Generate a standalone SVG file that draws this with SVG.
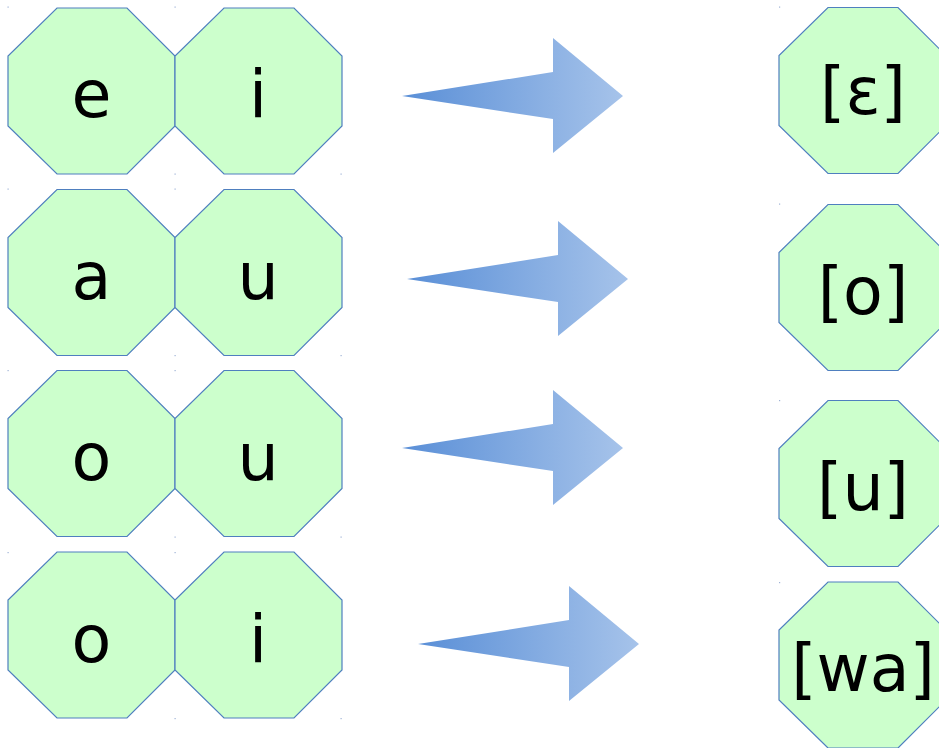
<svg xmlns="http://www.w3.org/2000/svg" xmlns:xlink="http://www.w3.org/1999/xlink" width="939" height="748" viewBox="0 0 939 748">
<style>
.oct{fill:#ccffcc;stroke:#4f7fbf;stroke-width:1.2}
.t{font-family:"DejaVu Sans",Verdana,sans-serif;font-size:65px;fill:#000;text-anchor:middle}
.dot{fill:#9fb3d6}
</style>
<defs>
<linearGradient id="ag" x1="0" y1="0" x2="1" y2="0">
<stop offset="0" stop-color="#5a8fd7"/>
<stop offset="1" stop-color="#a6c3ea"/>
</linearGradient>
<path id="arr" d="M0,0 L151,-24 L151,-58 L221,0 L151,57 L151,23 Z" fill="url(#ag)"/>
</defs>
<rect width="939" height="748" fill="#fff"/>
<g id="dots">
<rect class="dot" x="7.5" y="6.5" width="1.2" height="1.2"/><rect class="dot" x="174.5" y="6.5" width="1.2" height="1.2"/><rect class="dot" x="174.5" y="173.5" width="1.2" height="1.2"/><rect class="dot" x="340.5" y="173.5" width="1.2" height="1.2"/>
<rect class="dot" x="7.5" y="188.5" width="1.2" height="1.2"/><rect class="dot" x="174.5" y="188.5" width="1.2" height="1.2"/><rect class="dot" x="174.5" y="355" width="1.2" height="1.2"/><rect class="dot" x="340.5" y="355" width="1.2" height="1.2"/>
<rect class="dot" x="7.5" y="370" width="1.2" height="1.2"/><rect class="dot" x="174.5" y="370" width="1.2" height="1.2"/><rect class="dot" x="174.5" y="536.5" width="1.2" height="1.2"/><rect class="dot" x="340.5" y="536.5" width="1.2" height="1.2"/>
<rect class="dot" x="7.5" y="552" width="1.2" height="1.2"/><rect class="dot" x="174.5" y="552" width="1.2" height="1.2"/><rect class="dot" x="174.5" y="718" width="1.2" height="1.2"/><rect class="dot" x="340.5" y="718" width="1.2" height="1.2"/>
<rect class="dot" x="779" y="6.5" width="1.2" height="1.2"/><rect class="dot" x="779" y="203.5" width="1.2" height="1.2"/><rect class="dot" x="779" y="400" width="1.2" height="1.2"/><rect class="dot" x="779" y="582" width="1.2" height="1.2"/>
</g>
<g id="n-e" transform="translate(8,8)"><polygon class="oct" points="49,0 119,0 167,48 167,118 119,166 49,166 0,118 0,48"/><text class="t" x="83.5" y="109">e</text></g>
<g id="n-i1" transform="translate(175,8)"><polygon class="oct" points="49,0 119,0 167,48 167,118 119,166 49,166 0,118 0,48"/><text class="t" x="83" y="109">i</text></g>
<g id="n-a" transform="translate(8,189.5)"><polygon class="oct" points="49,0 119,0 167,48 167,118 119,166 49,166 0,118 0,48"/><text class="t" x="83.5" y="109.5">a</text></g>
<g id="n-u1" transform="translate(175,189.5)"><polygon class="oct" points="49,0 119,0 167,48 167,118 119,166 49,166 0,118 0,48"/><text class="t" x="83" y="109.5">u</text></g>
<g id="n-o1" transform="translate(8,370.5)"><polygon class="oct" points="49,0 119,0 167,48 167,118 119,166 49,166 0,118 0,48"/><text class="t" x="83.5" y="109.5">o</text></g>
<g id="n-u2" transform="translate(175,370.5)"><polygon class="oct" points="49,0 119,0 167,48 167,118 119,166 49,166 0,118 0,48"/><text class="t" x="83" y="109.5">u</text></g>
<g id="n-o2" transform="translate(8,552)"><polygon class="oct" points="49,0 119,0 167,48 167,118 119,166 49,166 0,118 0,48"/><text class="t" x="83.5" y="110">o</text></g>
<g id="n-i2" transform="translate(175,552)"><polygon class="oct" points="49,0 119,0 167,48 167,118 119,166 49,166 0,118 0,48"/><text class="t" x="83" y="110">i</text></g>
<g id="r-eps" transform="translate(779,7.5)"><polygon class="oct" points="49,0 119,0 167,48 167,118 119,166 49,166 0,118 0,48"/><text class="t" x="84" y="106">[ɛ]</text></g>
<g id="r-o" transform="translate(779,204.5)"><polygon class="oct" points="49,0 119,0 167,48 167,118 119,166 49,166 0,118 0,48"/><text class="t" x="84" y="109.5">[o]</text></g>
<g id="r-u" transform="translate(779,400.5)"><polygon class="oct" points="49,0 119,0 167,48 167,118 119,166 49,166 0,118 0,48"/><text class="t" x="84" y="109.5">[u]</text></g>
<g id="r-wa" transform="translate(779,582)"><polygon class="oct" points="49,0 119,0 167,48 167,118 119,166 49,166 0,118 0,48"/><text class="t" x="84" y="109">[wa]</text></g>
<g id="connectors">
<use xlink:href="#arr" x="402" y="96"/>
<use xlink:href="#arr" x="407" y="279"/>
<use xlink:href="#arr" x="402" y="448"/>
<use xlink:href="#arr" x="418" y="644"/>
</g>
</svg>
